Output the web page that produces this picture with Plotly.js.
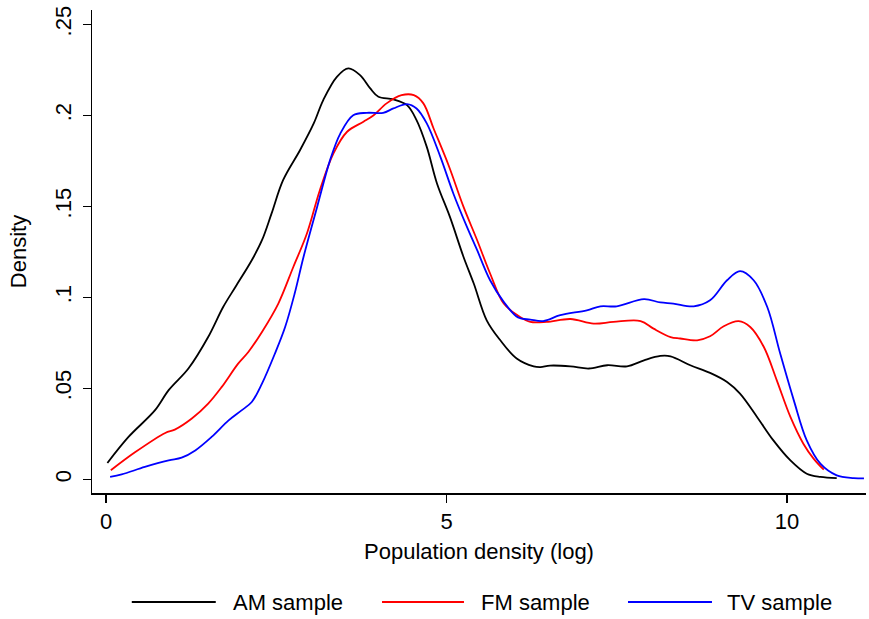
<!DOCTYPE html>
<html>
<head>
<meta charset="utf-8">
<script src="https://cdn.plot.ly/plotly-3.0.1.min.js"></script>
<style>html,body{margin:0;padding:0;background:#fff;}#chart{width:869px;height:619px;}</style>
</head>
<body>
<div id="chart"></div>
<script>
// AM sample density curve
const amX = [0.02, 0.33, 0.72, 0.92, 1.21, 1.50, 1.72, 1.90, 2.14, 2.29, 2.43, 2.60, 2.85, 3.05, 3.19, 3.39, 3.56, 3.73, 3.88, 4.00, 4.22, 4.42, 4.56, 4.71, 4.86, 5.05, 5.25, 5.40, 5.59, 5.79, 6.03, 6.28, 6.38, 6.52, 6.82, 7.09, 7.36, 7.65, 7.90, 8.14, 8.29, 8.58, 8.87, 9.12, 9.31, 9.56, 9.80, 10.05, 10.29, 10.49, 10.73];
const amY = [0.009, 0.0233, 0.038, 0.049, 0.0609, 0.0782, 0.0947, 0.1057, 0.1204, 0.1314, 0.146, 0.1644, 0.181, 0.1956, 0.2084, 0.2212, 0.2258, 0.2221, 0.2148, 0.2102, 0.2088, 0.2056, 0.1974, 0.1827, 0.1626, 0.1442, 0.1222, 0.1076, 0.0874, 0.0764, 0.0664, 0.0621, 0.0617, 0.0625, 0.0621, 0.0609, 0.0627, 0.0621, 0.0654, 0.0678, 0.0676, 0.0627, 0.0585, 0.0535, 0.0471, 0.0343, 0.0214, 0.0104, 0.0031, 0.0013, 0.0007];

// FM sample density curve
const fmX = [0.07, 0.43, 0.87, 1.01, 1.26, 1.50, 1.70, 1.94, 2.09, 2.29, 2.53, 2.75, 2.95, 3.14, 3.34, 3.54, 3.78, 3.93, 4.12, 4.34, 4.52, 4.66, 4.81, 5.03, 5.25, 5.45, 5.64, 5.84, 6.08, 6.23, 6.47, 6.82, 7.16, 7.45, 7.85, 8.04, 8.29, 8.43, 8.68, 8.87, 9.07, 9.29, 9.46, 9.66, 9.85, 10.05, 10.24, 10.39, 10.54];
const fmY = [0.005, 0.015, 0.0255, 0.0273, 0.0334, 0.0416, 0.0508, 0.0636, 0.070, 0.081, 0.0966, 0.1167, 0.1351, 0.1589, 0.1791, 0.191, 0.1965, 0.2001, 0.2066, 0.2111, 0.2111, 0.2066, 0.1928, 0.1726, 0.1497, 0.1314, 0.1131, 0.0966, 0.0892, 0.0865, 0.0865, 0.0881, 0.0856, 0.0865, 0.087, 0.0828, 0.0782, 0.0774, 0.0764, 0.0786, 0.0841, 0.0869, 0.0837, 0.0727, 0.0544, 0.0343, 0.0196, 0.0114, 0.0053];

// TV sample density curve
const tvX = [0.06, 0.23, 0.57, 0.92, 1.11, 1.31, 1.55, 1.80, 1.99, 2.14, 2.29, 2.48, 2.63, 2.77, 2.90, 3.10, 3.29, 3.44, 3.63, 3.83, 4.07, 4.22, 4.42, 4.56, 4.71, 4.91, 5.10, 5.30, 5.45, 5.64, 5.84, 6.05, 6.23, 6.42, 6.67, 7.06, 7.26, 7.50, 7.90, 8.14, 8.33, 8.63, 8.87, 9.12, 9.31, 9.51, 9.71, 9.90, 10.10, 10.29, 10.49, 10.73, 10.98, 11.13];
const tvY = [0.0014, 0.0027, 0.0068, 0.0104, 0.0119, 0.0159, 0.0233, 0.0324, 0.0379, 0.0425, 0.0526, 0.0691, 0.0837, 0.1021, 0.1222, 0.1497, 0.1754, 0.19, 0.2001, 0.2014, 0.2014, 0.2038, 0.2062, 0.2038, 0.1956, 0.1772, 0.1571, 0.1387, 0.1259, 0.1094, 0.0975, 0.089, 0.0878, 0.087, 0.0902, 0.0929, 0.0951, 0.0951, 0.099, 0.0972, 0.0966, 0.0951, 0.0984, 0.1094, 0.1144, 0.1094, 0.0947, 0.0691, 0.0434, 0.0214, 0.0086, 0.0022, 0.0007, 0.0005];

const seriesNames = ["AM sample", "FM sample", "TV sample"];
const seriesColors = ["#000000", "#ff0000", "#0000ff"];
const yTickVals = [0, 0.05, 0.1, 0.15, 0.2, 0.25];
const yTickText = ["0", ".05", ".1", ".15", ".2", ".25"];
const xTickVals = [0, 5, 10];
const xTickText = ["0", "5", "10"];

const FONT = "Liberation Sans, Arial, sans-serif";
const FS = 22;
const xs = [amX, fmX, tvX], ys = [amY, fmY, tvY];
const traces = xs.map((x, i) => ({
  x: x, y: ys[i], type: "scatter", mode: "lines", name: seriesNames[i],
  line: {color: seriesColors[i], width: 1.8, shape: "spline", smoothing: 1.0},
  hoverinfo: "x+y+name", showlegend: false
}));

// custom legend (paper coords)
const legendLineStart = [0.0514, 0.3747, 0.6925];
const legendLineEnd = [0.1599, 0.4806, 0.8010];
const legendTextX = [0.1792, 0.5000, 0.8178];
const legY = -0.2257;
const shapes = seriesNames.map((n, i) => ({
  type: "line", xref: "paper", yref: "paper",
  x0: legendLineStart[i], x1: legendLineEnd[i], y0: legY, y1: legY,
  line: {color: seriesColors[i], width: 1.8}
}));
const annotations = seriesNames.map((n, i) => ({
  text: n, xref: "paper", yref: "paper", x: legendTextX[i], y: legY,
  xanchor: "left", yanchor: "middle", showarrow: false,
  font: {family: FONT, size: FS, color: "#000"}
}));

const layout = {
  width: 869, height: 619,
  margin: {l: 92, r: 3, t: 10, b: 126},
  paper_bgcolor: "#fff", plot_bgcolor: "#fff",
  font: {family: FONT, size: FS, color: "#000"},
  showlegend: false,
  xaxis: {
    range: [-0.206, 11.16], showgrid: false, zeroline: false,
    showline: true, linecolor: "#000", linewidth: 1.5,
    ticks: "outside", ticklen: 8, tickwidth: 1.5, tickcolor: "#000",
    tickvals: xTickVals, ticktext: xTickText,
    tickfont: {family: FONT, size: FS, color: "#000"},
    title: {text: "Population density (log)", font: {family: FONT, size: FS, color: "#000"}, standoff: 10}
  },
  yaxis: {
    range: [-0.0075, 0.2579], showgrid: false, zeroline: false,
    showline: true, linecolor: "#000", linewidth: 1.5,
    ticks: "outside", ticklen: 8, tickwidth: 1.5, tickcolor: "#000",
    tickvals: yTickVals, ticktext: yTickText, tickangle: -90,
    ticklabelstandoff: 3,
    tickfont: {family: FONT, size: FS, color: "#000"},
    title: {text: "Density", font: {family: FONT, size: FS, color: "#000"}, standoff: 18}
  },
  shapes: shapes,
  annotations: annotations
};

Plotly.newPlot("chart", traces, layout, {displayModeBar: false, staticPlot: true});
</script>
</body>
</html>
